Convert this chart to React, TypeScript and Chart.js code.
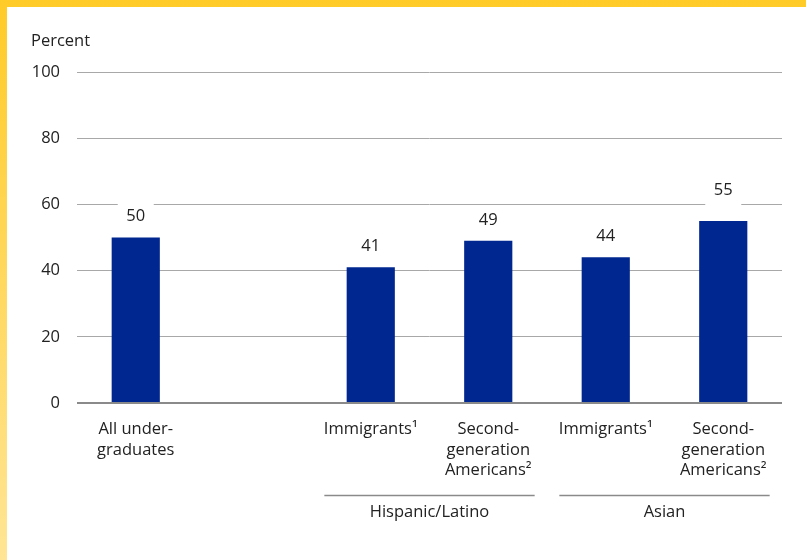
import React, { useEffect, useRef } from "react";
import { Chart, registerables } from "chart.js";

Chart.register(...registerables);

const categories: (string | string[])[] = [
  ["All under-", "graduates"],
  "",
  "Immigrants¹",
  ["Second-", "generation", "Americans²"],
  "Immigrants¹",
  ["Second-", "generation", "Americans²"],
];
const values: (number | null)[] = [50, null, 41, 49, 44, 55];
const groupLabels = ["Hispanic/Latino", "Asian"];
const groupStart = [2, 4];
const groupEnd = [3, 5];
const yTicks = [0, 20, 40, 60, 80, 100];

const FONT = "'Open Sans', sans-serif";
const FS = 16.5;
const BAR = "#00278F";

const valueLabels = {
  id: "valueLabels",
  afterDatasetsDraw(chart: any) {
    const ctx = chart.ctx;
    const ys = chart.scales.y;
    const meta = chart.getDatasetMeta(0);
    const gridYs = yTicks.map((t) => ys.getPixelForValue(t));
    ctx.save();
    ctx.font = `${FS}px ${FONT}`;
    ctx.textAlign = "center";
    ctx.textBaseline = "middle";
    meta.data.forEach((el: any, i: number) => {
      const v = values[i];
      if (v === null || v === undefined) return;
      let cy = el.y - 21;
      // if the text would sit on a gridline, lift it above that line
      gridYs.forEach((gy) => {
        if (gy > cy - 8 && gy < cy + 8) cy = gy - 14;
      });
      ctx.fillStyle = "#ffffff";
      ctx.fillRect(el.x - 18, cy - 14, 36, 29);
      ctx.fillStyle = "#222";
      ctx.fillText(String(v), el.x, cy);
    });
    ctx.restore();
  },
};

const extras = {
  id: "extras",
  afterDraw(chart: any) {
    const ctx = chart.ctx;
    const xs = chart.scales.x;
    ctx.save();
    ctx.fillStyle = "#222";
    ctx.font = `${FS}px ${FONT}`;
    ctx.textAlign = "left";
    ctx.textBaseline = "middle";
    ctx.fillText("Percent", 24, 34);
    const half = (xs.getPixelForValue(1) - xs.getPixelForValue(0)) * 0.395;
    groupLabels.forEach((g, i) => {
      const x1 = xs.getPixelForValue(groupStart[i]) - half;
      const x2 = xs.getPixelForValue(groupEnd[i]) + half;
      ctx.strokeStyle = "#8a8a8a";
      ctx.lineWidth = 1.5;
      ctx.beginPath();
      ctx.moveTo(x1, 488.5);
      ctx.lineTo(x2, 488.5);
      ctx.stroke();
      ctx.textAlign = "center";
      ctx.fillText(g, (x1 + x2) / 2, 505);
    });
    ctx.restore();
  },
};

export default function App() {
  const ref = useRef<HTMLCanvasElement | null>(null);
  useEffect(() => {
    document.body.style.margin = "0";
    const chart = new Chart(ref.current as HTMLCanvasElement, {
      type: "bar",
      data: {
        labels: categories,
        datasets: [
          {
            data: values,
            backgroundColor: BAR,
            borderWidth: 0,
            barPercentage: 0.41,
            categoryPercentage: 1,
          },
        ],
      },
      options: {
        animation: false,
        responsive: false,
        maintainAspectRatio: false,
        layout: { padding: { top: 65, right: 24, left: 0, bottom: 0 } },
        plugins: {
          legend: { display: false },
          tooltip: { enabled: false },
        },
        scales: {
          x: {
            grid: { display: false, drawTicks: false },
            border: { display: false },
            ticks: {
              autoSkip: false,
              maxRotation: 0,
              minRotation: 0,
              padding: 16,
              color: "#222",
              font: { family: FONT, size: FS, lineHeight: 1.25 },
            },
            afterFit: (s: any) => {
              s.height = 157;
            },
          },
          y: {
            min: 0,
            max: 100,
            afterBuildTicks: (s: any) => {
              s.ticks = yTicks.map((v) => ({ value: v }));
            },
            grid: {
              drawTicks: false,
              color: (c: any) => (c.tick && c.tick.value === 0 ? "#8a8a8a" : "#a8a8a8"),
              lineWidth: (c: any) => (c.tick && c.tick.value === 0 ? 2 : 1),
            },
            border: { display: false },
            ticks: {
              padding: 17,
              color: "#222",
              font: { family: FONT, size: FS },
            },
            afterFit: (s: any) => {
              s.width = 70;
            },
          },
        },
      },
      plugins: [valueLabels, extras],
    });
    return () => chart.destroy();
  }, []);

  return (
    <div
      style={{
        width: 806,
        height: 560,
        boxSizing: "border-box",
        paddingTop: 7,
        paddingLeft: 7,
        background: "linear-gradient(to bottom, #FFCB27, #FFE595)",
      }}
    >
      <div style={{ width: 799, height: 553, background: "#fff" }}>
        <canvas ref={ref} width={799} height={553} style={{ display: "block" }} />
      </div>
    </div>
  );
}
